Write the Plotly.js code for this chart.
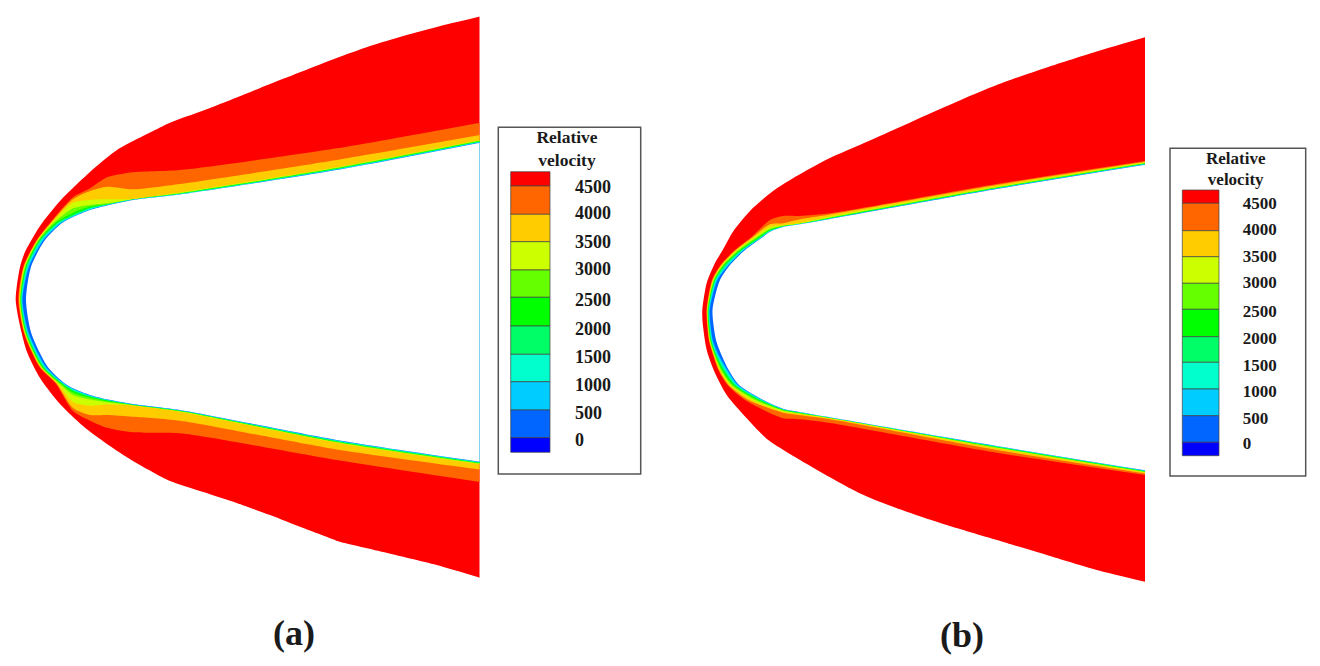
<!DOCTYPE html>
<html>
<head>
<meta charset="utf-8">
<script src="https://cdn.plot.ly/plotly-3.0.1.min.js"></script>
<style>body{margin:0;background:#fff}</style>
</head>
<body>
<div id="graph" style="width:1320px;height:666px"></div>
<script>
// all positions in picture pixels
const zone_colors = ["#ff0000","#ff6600","#ffcc00","#ccff00","#66ff00","#00ff00","#00ff66","#00ffcc","#00ccff","#0066ff","#ffffff"];
const swatch_colors = ["#ff0000","#ff6600","#ffcc00","#ccff00","#66ff00","#00ff00","#00ff66","#00ffcc","#00ccff","#0066ff","#0000ff"];
const legend_labels = ["4500","4000","3500","3000","2500","2000","1500","1000","500","0"];

// panel (a): shock front
const a_shock_x = [482,436.7,403.3,370,336.7,303.3,270,236.7,203.3,170,150,117,90,60,40,25,20,15.7,21.7,27,40,60,83,107,133,170,203.3,236.7,270,303.3,333,337,383,436.7,482];
const a_shock_y = [16.1,27,36,46,58,71,84,97.5,110.5,122.7,132.5,150,172,201,226,252,267,300,333,352,378,404,426,444,461,481,492,503,515,528,539.3,541,552,565,578.4];
// panel (a): stations the contour lines are read at
const a_top_x = [482,336.7,180,133,107,90,73];
const a_mid_y = [223,240,266.7,300,333.3,366.7,383.3];
const a_bot_x = [73,90,107,133,180,336.7,482];
// y at a_top_x, x at a_mid_y, y at a_bot_x
const a_4500 = [[122.3,148.3,170,172.3,177.3,188.3,197.3],[50,36.7,23.3,18.3,24,39.3,55.5],[411,420.7,427.7,432.3,433.3,460,482.3]];
const a_4000 = [[134.7,160,184,189.3,186.7,191,199.3],[50.7,37.2,23.8,19,24.5,40,56.3],[408,415,415,416.7,420.7,449.5,469.8]];
const a_3500 = [[139.7,167.3,192.5,199,199.3,200,202.7],[51.7,37.8,24.3,19.6,25,40.7,57.5],[402,405.7,404.5,405.5,411.7,442.7,464.5]];
const a_3000 = [[140.2,167.9,193,199.2,203.3,205,208.3],[53.5,38.5,25,20.1,25.5,41.3,59],[395,399.5,402.3,405.2,411.3,442.2,464]];
const a_2500 = [[140.6,168.3,193.4,199.4,204.2,206.5,212.7],[55.2,39.3,25.7,20.5,26,42,60.3],[392.5,397.8,401.3,405,411,441.8,463.6]];
const a_2000 = [[141,168.7,193.7,199.5,204.5,207.7,214.7],[57,40.2,26.4,21,26.6,42.8,61.5],[391,396.8,400.5,404.8,410.7,441.4,463.2]];
const a_1500 = [[141.4,169.1,194,199.6,204.8,208.5,215.7],[58.5,41.2,27.2,21.5,27.2,43.7,62.3],[390,396.2,400.1,404.6,410.5,441,462.9]];
const a_1000 = [[141.7,169.5,194.2,199.7,205,209.2,216.3],[60,42.3,28,22,27.9,44.7,63],[389.2,395.7,399.8,404.4,410.3,440.6,462.6]];
const a_500 = [[142,169.8,194.4,199.85,205.3,209.7,216.7],[61,43.6,29,22.5,28.8,45.9,63.7],[388.7,395.3,399.5,404.2,410.15,440.3,462.3]];
const a_wall = [[142.3,170,194.5,200,205.5,210,217],[62,45,31,26,31.3,47.6,64.5],[388.3,395,399.3,404,410,440,462.1]];

// panel (b)
const b_shock_x = [1147,1096.7,1046.7,996.7,963,930,896.7,863,830,810,791.7,773,750,733,722.7,715,706.7,702.3,702.7,706.7,715,726.7,746.7,768.3,830,853.3,873.3,906.7,946.7,996.7,1046.7,1096.7,1147];
const b_shock_y = [36.7,51.5,67.5,85,99,113.5,128.5,143.5,158,168.5,179,191,211,231.7,250,263,283,310,323,350,373,395,418.3,440,477.3,490,499.3,511.7,525,540,555,570,582.3];
const b_top_x = [1147,996.7,830,800,783,770];
const b_mid_y = [236.7,250,265,280,310,340,355,370,385,400];
const b_bot_x = [783,800,830,996.7,1147];
const b_4500 = [[160.7,184,213.3,216,216,220],[751.7,735,720.5,712,706.5,708.8,713,718.3,727.5,745],[418.3,419.3,423,452.7,475.3]];
const b_4000 = [[161.5,185,214.5,219.3,223.3,224.3],[753.3,735.7,721.2,712.6,706.9,709.2,713.5,719,728.5,748.3],[412.7,415.3,419.3,450,473.7]];
const b_3500 = [[162.3,186.5,216.5,223,225.3,227],[755.3,737,722,713.2,707.2,709.6,714,720,730,751.7],[411.7,414,418.3,448.3,472.7]];
const b_3000 = [[162.8,187.3,217.5,223.5,225.8,228.7],[757.3,738.7,723,713.8,707.6,710,714.6,721,731.5,755],[410.7,413.5,418,447.8,472.3]];
const b_2500 = [[163.1,187.8,218,223.8,226.2,229.7],[759,740,724,714.4,708,710.5,715.2,722,733,757.7],[410,413,417.8,447.3,471.9]];
const b_2000 = [[163.4,188.1,218.3,224,226.5,230.3],[760.3,741.3,725,715,708.4,711,715.9,723.3,734.5,759.3],[409.7,412.7,417.6,446.9,471.5]];
const b_1500 = [[163.7,188.4,218.6,224.1,226.7,231],[761.7,742.3,726.2,715.7,708.8,711.5,716.6,724.7,735.5,761],[409.3,412.4,417.5,446.6,471.2]];
const b_1000 = [[164,188.6,218.8,224.15,226.8,231.3],[762.3,743.3,727.5,716.5,709.2,712,717.5,726,736.7,762],[409.1,412.2,417.4,446.3,471]];
const b_500 = [[164.2,188.8,218.9,224.2,226.9,231.5],[762.8,744,728.8,717.5,709.8,712.8,718.7,727.4,738,762.7],[408.9,412.1,417.35,446.1,470.8]];
const b_wall = [[164.4,189,219,224.3,227,231.7],[763.3,745,730,720,712.5,716,721.5,728.7,739,763.3],[408.7,412,417.3,446,470.7]];

// legends: swatch edges, label centres
const a_edges = [171.7,186,214.3,241.7,270,297.3,326,354.3,381.7,410,437.7,452.3];
const a_label_y = [188,214.7,243.7,270.4,301.4,330.4,358,386.4,414,441.4];
const b_edges = [190,203.3,230.7,256.7,283.3,309.3,336.7,362.3,389,415.7,442.3,455.7];
const b_label_y = [205,230.3,257.7,283.7,312.7,340,366.3,392.7,419.3,445];

function zone(x, y, color, xaxis) {
    return {x: x, y: y, xaxis: xaxis, yaxis: "y", type: "scatter", mode: "lines", fill: "toself", fillcolor: color,
        line: {width: 0, shape: "spline", smoothing: 0.7, simplify: false}, hoverinfo: "skip"};
}

// joins the three read sections of a contour line into one closed outline
function contour(c, top_x, mid_y, bot_x, color, xaxis) {
    const x = top_x.concat(c[1], bot_x);
    const y = c[0].concat(mid_y, c[2]);
    return zone(x, y, color, xaxis);
}

function swatches(edges, xc, w) {
    return {x: edges.slice(1).map(() => xc), y: edges.slice(1).map((e, i) => e - edges[i]), base: edges.slice(0, -1),
        width: w, type: "bar", xaxis: "x3", yaxis: "y", hoverinfo: "skip",
        marker: {color: swatch_colors, line: {color: "#444", width: 0.7}}};
}

function labels(x, y, text, size, pos) {
    return {x: x, y: y, text: text, type: "scatter", mode: "text", textposition: pos, xaxis: "x3", yaxis: "y", hoverinfo: "skip",
        textfont: {family: "Liberation Serif", size: size, color: "#1a1a1a", weight: "bold"}};
}

const a_lines = [a_4500,a_4000,a_3500,a_3000,a_2500,a_2000,a_1500,a_1000,a_500,a_wall];
const b_lines = [b_4500,b_4000,b_3500,b_3000,b_2500,b_2000,b_1500,b_1000,b_500,b_wall];

const graph_traces = [zone(a_shock_x, a_shock_y, zone_colors[0], "x")]
    .concat(a_lines.map((c, i) => contour(c, a_top_x, a_mid_y, a_bot_x, zone_colors[i + 1], "x")))
    .concat([zone(b_shock_x, b_shock_y, zone_colors[0], "x2")])
    .concat(b_lines.map((c, i) => contour(c, b_top_x, b_mid_y, b_bot_x, zone_colors[i + 1], "x2")))
    .concat([
        swatches(a_edges, 530.35, 39.3),
        swatches(b_edges, 1200.65, 36.7),
        labels(a_label_y.map(() => 575), a_label_y, legend_labels, 18, "middle right"),
        labels(b_label_y.map(() => 1242.7), b_label_y, legend_labels, 17, "middle right"),
        labels([567,567], [139,162], ["Relative","velocity"], 17.5, "middle center"),
        labels([1235.7,1235.7], [160,181], ["Relative","velocity"], 17, "middle center"),
        labels([294,962], [636,638], ["(a)","(b)"], 36, "middle center")
    ]);

function legendBox(x0, y0, x1, y1) {
    return {type: "rect", xref: "x3", yref: "y", x0: x0, y0: y0, x1: x1, y1: y1, layer: "below", fillcolor: "#fff", line: {color: "#555", width: 1.5}};
}

const hidden = {visible: false, fixedrange: true};
const graph_layout = {
    width: 1320, height: 666, margin: {t: 0, l: 0, r: 0, b: 0}, showlegend: false, barmode: "overlay",
    paper_bgcolor: "#fff", plot_bgcolor: "rgba(0,0,0,0)",
    xaxis: {...hidden, domain: [0, 479.5 / 1320], range: [0, 479.5], anchor: "y"},
    xaxis2: {...hidden, domain: [690 / 1320, 1145 / 1320], range: [690, 1145], anchor: "y"},
    xaxis3: {...hidden, domain: [0, 1], range: [0, 1320], anchor: "y"},
    yaxis: {...hidden, domain: [0, 1], range: [666, 0], anchor: "x"},
    shapes: [legendBox(498.3, 127.3, 640.7, 474), legendBox(1170, 148.3, 1305.7, 476)]
};
Plotly.newPlot("graph", graph_traces, graph_layout, {displayModeBar: false, staticPlot: true});
</script>
</body>
</html>
